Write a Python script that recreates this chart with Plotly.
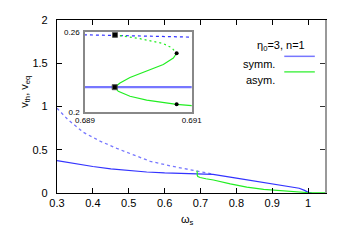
import plotly.graph_objects as go

# ---------------- data ----------------
sym_stable_w = [0.3, 0.35, 0.4, 0.45, 0.5, 0.55, 0.6, 0.65, 0.689, 0.691, 0.735,
                0.8, 0.85, 0.9, 0.95, 0.975, 0.99, 1.0, 1.01]
sym_stable_v = [0.374, 0.338, 0.306, 0.28, 0.258, 0.243, 0.232, 0.224, 0.2188, 0.2187, 0.215,
                0.172, 0.139, 0.105, 0.072, 0.055, 0.03, 0.008, 0.0]

sym_unstable_w = [0.3, 0.33, 0.374, 0.42, 0.467, 0.52, 0.56, 0.62, 0.671, 0.689, 0.691, 0.71, 0.735]
sym_unstable_v = [0.98, 0.85, 0.70, 0.60, 0.515, 0.43, 0.366, 0.31, 0.273, 0.2581, 0.2564, 0.24, 0.218]

asym_unstable_w = [0.689562, 0.690031, 0.690468, 0.690625, 0.690718]
asym_unstable_v = [0.25808, 0.25517, 0.25152, 0.24836, 0.24423]

asym_stable_w = [0.690718, 0.690656, 0.690468, 0.690156, 0.689843, 0.689656, 0.689557,
                 0.689624, 0.689843, 0.690156, 0.690718, 0.691, 0.6925, 0.699, 0.715,
                 0.736, 0.783, 0.829, 0.876, 0.922, 0.96, 0.996, 1.05]
asym_stable_v = [0.24423, 0.2406, 0.23572, 0.23084, 0.226, 0.22187, 0.2187,
                 0.21555, 0.2119, 0.20899, 0.20583, 0.20486, 0.19, 0.179, 0.165,
                 0.15, 0.105, 0.067, 0.041, 0.027, 0.015, 0.006, 0.0]

bif_w = [0.689562, 0.689557]
bif_v = [0.25808, 0.2187]
fold_w = [0.690718, 0.690718]
fold_v = [0.24423, 0.20583]

x_ticks = [0.3, 0.4, 0.5, 0.6, 0.7, 0.8, 0.9, 1.0]
x_ticktext = ["0.3", "0.4", "0.5", "0.6", "0.7", "0.8", "0.9", "1"]
y_ticks = [0, 0.5, 1, 1.5, 2]
y_ticktext = ["0", "0.5", "1", "1.5", "2"]
inset_x_ticks = [0.689, 0.691]
inset_x_text = ["0.689", "0.691"]
inset_y_ticks = [0.2, 0.26]
inset_y_text = ["0.2", "0.26"]

BLUE = "#3333ff"
BLUE_L = "#7777ff"
GREEN = "#22ee22"
FONT = "Liberation Sans"

fig = go.Figure()

# main
fig.add_trace(go.Scatter(x=sym_unstable_w, y=sym_unstable_v, mode="lines",
                         line=dict(color=BLUE_L, width=1.3, dash="3px,3px"),
                         xaxis="x", yaxis="y"))
fig.add_trace(go.Scatter(x=sym_stable_w, y=sym_stable_v, mode="lines",
                         line=dict(color=BLUE, width=1.2), xaxis="x", yaxis="y"))
fig.add_trace(go.Scatter(x=asym_unstable_w, y=asym_unstable_v, mode="lines",
                         line=dict(color=GREEN, width=1.2, dash="3px,3px"),
                         xaxis="x", yaxis="y"))
fig.add_trace(go.Scatter(x=asym_stable_w, y=asym_stable_v, mode="lines",
                         line=dict(color=GREEN, width=1.2), xaxis="x", yaxis="y"))

# inset
fig.add_trace(go.Scatter(x=sym_unstable_w, y=sym_unstable_v, mode="lines",
                         line=dict(color=BLUE, width=1.2, dash="3px,3px"),
                         xaxis="x2", yaxis="y2"))
fig.add_trace(go.Scatter(x=sym_stable_w, y=sym_stable_v, mode="lines",
                         line=dict(color=BLUE_L, width=2.2), xaxis="x2", yaxis="y2"))
fig.add_trace(go.Scatter(x=asym_unstable_w, y=asym_unstable_v, mode="lines",
                         line=dict(color=GREEN, width=1.2, dash="2px,3px"),
                         xaxis="x2", yaxis="y2"))
fig.add_trace(go.Scatter(x=asym_stable_w, y=asym_stable_v, mode="lines",
                         line=dict(color=GREEN, width=1.2), xaxis="x2", yaxis="y2"))
fig.add_trace(go.Scatter(x=bif_w, y=bif_v, mode="markers",
                         marker=dict(symbol="square", size=5, color="black",
                                     line=dict(color="#555", width=1)),
                         xaxis="x2", yaxis="y2"))
fig.add_trace(go.Scatter(x=fold_w, y=fold_v, mode="markers",
                         marker=dict(symbol="circle", size=4, color="black"),
                         xaxis="x2", yaxis="y2"))

axis_common = dict(showgrid=False, zeroline=False, ticks="inside", ticklen=5,
                   tickcolor="black", tickfont=dict(family=FONT, size=11, color="black"))

# page body has an 8px margin, so the figure is 8px smaller than the window
fig.update_layout(
    width=338, height=234,
    margin=dict(l=49, r=21, t=6, b=49),
    paper_bgcolor="white", plot_bgcolor="white",
    showlegend=False,
    font=dict(family=FONT, size=11, color="black"),
    xaxis=dict(range=[0.3, 1.047], tickvals=x_ticks, ticktext=x_ticktext,
               showline=True, linecolor="black", linewidth=1.2, mirror="ticks",
               domain=[0, 1], anchor="y", **axis_common),
    yaxis=dict(range=[0, 2], tickvals=y_ticks, ticktext=y_ticktext,
               showline=True, linecolor="black", linewidth=1.2, mirror=False,
               domain=[0, 1], anchor="x", ticklabelstandoff=6, **axis_common),
    yaxis3=dict(range=[0, 2], tickvals=y_ticks, overlaying="y", side="right",
                showticklabels=False, showline=True, linecolor="#999999", linewidth=1.5,
                showgrid=False, zeroline=False, ticks="inside", ticklen=5, tickcolor="#333"),
    xaxis2=dict(range=[0.689 - 1e-7, 0.691 + 1e-7], domain=[0.1045, 0.5026], anchor="y2",
                tickvals=inset_x_ticks, ticktext=inset_x_text, ticks="",
                showline=True, mirror=True, linecolor="#888888", linewidth=1.5,
                showgrid=False, zeroline=False,
                tickfont=dict(family=FONT, size=8, color="black")),
    yaxis2=dict(range=[0.2 - 1e-6, 0.26 + 1e-6], domain=[0.468, 0.929], anchor="x2",
                tickvals=inset_y_ticks, ticktext=inset_y_text, ticks="",
                showline=True, mirror=True, linecolor="#888888", linewidth=1.5,
                showgrid=False, zeroline=False, ticklabelstandoff=2,
                tickfont=dict(family=FONT, size=8, color="black")),
)

# dummy trace to activate right axis
fig.add_trace(go.Scatter(x=[None], y=[None], xaxis="x", yaxis="y3", showlegend=False))

# axis titles
fig.add_annotation(text="v<sub>th</sub>, v<sub>eq</sub>", xref="paper", yref="paper",
                   x=-0.153, y=0.585, textangle=-90, showarrow=False,
                   font=dict(family=FONT, size=11))
fig.add_annotation(text="ω<sub>s</sub>", xref="paper", yref="paper",
                   x=0.488, y=-0.158, yanchor="middle", showarrow=False,
                   font=dict(family=FONT, size=11))

# legend (gnuplot style)
fig.add_annotation(text="η<sub>0</sub>=3, n=1", xref="paper", yref="paper",
                   xanchor="left", x=0.737, y=0.9, showarrow=False,
                   font=dict(family=FONT, size=11))
fig.add_annotation(text="symm.", xref="paper", yref="paper", xanchor="right",
                   x=0.822, y=0.79, showarrow=False, font=dict(family=FONT, size=11))
fig.add_annotation(text="asym.", xref="paper", yref="paper", xanchor="right",
                   x=0.822, y=0.70, showarrow=False, font=dict(family=FONT, size=11))
fig.add_shape(type="line", xref="paper", yref="paper", x0=0.848, x1=0.962,
              y0=0.79, y1=0.79, line=dict(color=BLUE_L, width=1.5))
fig.add_shape(type="line", xref="paper", yref="paper", x0=0.848, x1=0.962,
              y0=0.70, y1=0.70, line=dict(color=GREEN, width=1.2))

fig.write_html("out.html")
